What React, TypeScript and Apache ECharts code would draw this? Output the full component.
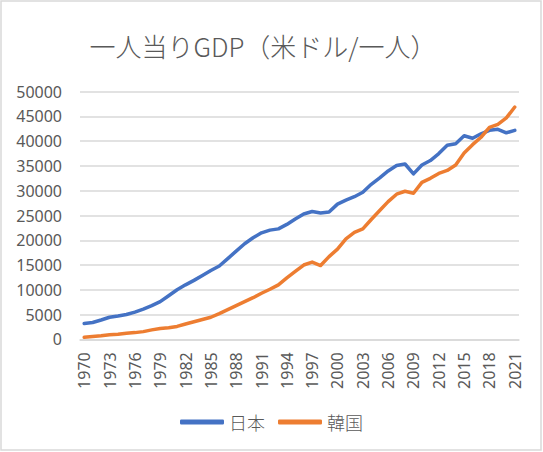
import React, { useEffect, useRef } from "react";
import * as echarts from "echarts";

const years: string[] = [];
for (let y = 1970; y <= 2021; y++) years.push(String(y));

const japan = [
  3200, 3400, 3900, 4450, 4700, 5000, 5500, 6100, 6800, 7600,
  8800, 10000, 11000, 11900, 12900, 13900, 14800, 16300, 17800, 19300,
  20500, 21500, 22050, 22300, 23200, 24300, 25300, 25800, 25500, 25700,
  27300, 28100, 28800, 29700, 31300, 32600, 34000, 35100, 35400, 33400,
  35200, 36100, 37500, 39200, 39500, 41100, 40600, 41500, 42200, 42400,
  41700, 42200,
];

const korea = [
  400, 550, 700, 900, 1000, 1200, 1350, 1550, 1900, 2200,
  2350, 2600, 3100, 3550, 4000, 4450, 5200, 6000, 6800, 7600,
  8400, 9300, 10100, 11000, 12400, 13700, 15000, 15600, 14900, 16700,
  18200, 20300, 21600, 22300, 24200, 26000, 27800, 29300, 29900, 29500,
  31700, 32500, 33500, 34100, 35200, 37600, 39300, 40800, 42800, 43400,
  44700, 46900,
];

const seriesNames = ["日本", "韓国"];
const titleText = "一人当りGDP（米ドル/一人）";

export default function App() {
  const ref = useRef<HTMLDivElement>(null);
  useEffect(() => {
    if (!ref.current) return;
    const chart = echarts.init(ref.current, undefined, { renderer: "svg" });
    const cjk = "'Noto Sans CJK JP', 'Noto Sans', sans-serif";
    const num = "'Noto Sans', 'Liberation Sans', sans-serif";
    chart.setOption({
      animation: false,
      backgroundColor: "#ffffff",
      graphic: [
        {
          type: "rect",
          shape: { x: 1, y: 1, width: 540, height: 449 },
          style: { fill: "none", stroke: "#D9D9D9", lineWidth: 1.5 },
          silent: true,
        },
        {
          type: "text",
          x: 263,
          y: 45,
          style: {
            text: titleText,
            font: `300 26px ${cjk}`,
            fill: "#595959",
            textAlign: "center",
            textVerticalAlign: "middle",
          },
        },
      ],
      grid: { left: 80, right: 24, top: 91.7, bottom: 112.7, containLabel: false },
      legend: {
        data: seriesNames,
        left: "center",
        top: 408,
        icon: "roundRect",
        itemWidth: 44,
        itemHeight: 5,
        itemGap: 13,
        textStyle: { fontFamily: cjk, fontSize: 18, color: "#595959", fontWeight: 300 },
      },
      xAxis: {
        type: "category",
        data: years,
        boundaryGap: true,
        axisLine: { show: true, lineStyle: { color: "#D9D9D9", width: 1.5 } },
        axisTick: { show: false },
        axisLabel: {
          interval: 2,
          rotate: 90,
          margin: 13,
          fontFamily: num,
          fontSize: 16,
          color: "#595959",
        },
      },
      yAxis: {
        type: "value",
        min: 0,
        max: 50000,
        interval: 5000,
        axisLine: { show: false },
        axisTick: { show: false },
        splitLine: { lineStyle: { color: "#D9D9D9", width: 1.5 } },
        axisLabel: {
          margin: 18,
          fontFamily: num,
          fontSize: 16,
          color: "#595959",
          formatter: (v: number) => String(v),
        },
      },
      series: [
        {
          name: seriesNames[0],
          type: "line",
          data: japan,
          symbol: "none",
          lineStyle: { color: "#4472C4", width: 3.5, cap: "round", join: "round" },
          itemStyle: { color: "#4472C4" },
        },
        {
          name: seriesNames[1],
          type: "line",
          data: korea,
          symbol: "none",
          lineStyle: { color: "#ED7D31", width: 3.5, cap: "round", join: "round" },
          itemStyle: { color: "#ED7D31" },
        },
      ],
    });
    return () => chart.dispose();
  }, []);
  return (
    <div
      ref={ref}
      style={{ position: "fixed", left: 0, top: 0, width: 543, height: 452 }}
    />
  );
}
